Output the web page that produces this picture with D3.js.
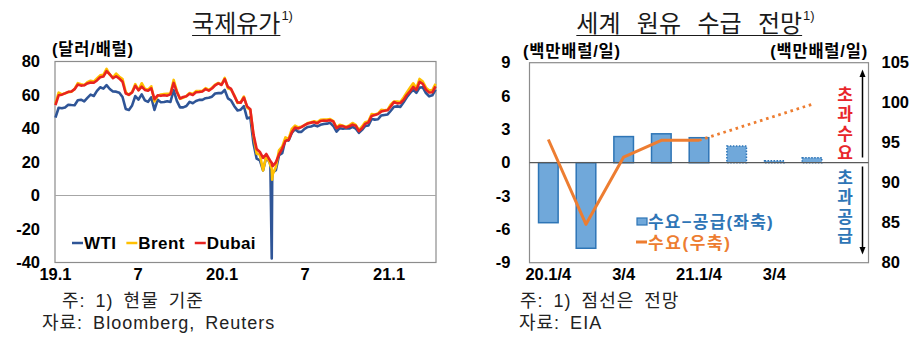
<!DOCTYPE html>
<html><head><meta charset="utf-8">
<script src="https://cdn.jsdelivr.net/npm/d3@7"></script>
<style>
html,body{margin:0;padding:0;background:#fff;}
svg{display:block;}
text{font-family:"Liberation Sans","Noto Sans CJK KR",sans-serif;}
.kr{font-family:"Noto Sans CJK KR","Liberation Sans",sans-serif;}
</style></head><body>
<svg id="c" width="919" height="351"></svg>
<script>
// ---------- Data: 국제유가 (weekly observations from 2019-01-02) ----------
const priceStart = "2019-01-02";
const wti = [
46.5,52.4,52.1,52.6,54.2,54.0,53.9,56.9,57.2,56.2,
58.3,60.2,59.4,62.5,64.6,63.8,65.9,63.6,62.1,62.0,
61.4,58.8,51.7,51.1,53.8,59.4,57.3,60.4,56.8,55.9,
58.6,51.1,57.1,55.7,55.8,56.3,55.8,62.9,56.5,52.6,
52.6,53.4,55.9,55.1,56.4,57.1,57.1,58.1,58.4,59.0,
60.9,61.1,61.1,63.0,58.0,56.7,53.3,50.8,51.2,53.3,
46.0,46.8,31.0,22.0,21.0,15.0,23.0,19.9,13.8,15.1,
24.0,25.3,33.5,32.8,37.3,39.6,38.0,38.0,39.8,40.9,
41.2,41.9,41.3,42.2,42.7,42.9,43.4,41.5,38.1,40.2,
39.9,40.2,40.0,41.0,40.0,37.4,39.2,41.5,41.8,45.7,
45.3,45.5,47.8,48.1,48.4,50.6,53.0,53.2,52.9,55.7,
58.7,61.1,63.2,61.3,64.4,64.6,61.2,59.2,59.8,63.2];
const brent = [
54.9,61.4,60.3,61.1,61.7,62.0,63.6,67.1,66.4,65.9,
67.6,68.5,68.0,69.9,71.7,72.0,75.6,72.2,70.4,72.8,
70.9,69.5,61.7,60.0,61.8,66.5,62.9,67.0,63.7,63.2,
65.2,56.2,59.5,60.3,60.5,60.7,60.8,69.0,62.4,57.7,
58.3,59.4,61.2,60.6,62.3,62.4,62.4,64.1,63.0,64.3,
66.2,67.2,66.3,70.2,64.0,63.2,59.8,55.3,55.8,59.1,
52.5,51.1,35.8,25.0,24.5,15.0,23.5,20.0,12.5,17.0,
27.0,29.2,34.7,33.8,39.8,41.7,40.7,41.0,42.0,43.3,
43.8,44.3,43.7,45.2,45.4,45.4,45.6,44.4,40.5,42.2,
41.7,40.9,41.9,43.3,42.2,39.1,41.2,43.8,44.3,48.6,
48.3,48.9,51.1,50.9,51.2,54.3,56.1,56.1,55.8,58.5,
61.5,64.3,67.0,64.1,69.6,68.0,64.4,62.7,62.9,66.6];
const dubai = [
54.0,59.8,60.2,61.0,61.9,62.1,63.5,66.2,65.6,65.8,
66.9,67.5,67.3,68.7,70.6,71.0,74.2,72.4,70.0,71.2,
69.8,67.9,60.9,60.2,61.5,65.5,62.8,65.0,63.0,62.5,
64.0,57.5,59.8,59.5,59.9,59.6,60.4,67.2,61.8,57.9,
58.8,59.2,60.7,60.0,61.6,61.8,62.1,63.5,62.6,63.9,
65.8,66.9,66.0,69.5,64.8,63.6,59.5,55.6,55.4,58.5,
53.2,51.5,36.5,27.8,26.0,22.5,24.8,21.5,17.5,19.8,
24.5,28.0,32.5,33.2,37.8,40.6,40.0,40.8,42.0,43.0,
43.5,43.8,43.2,44.5,44.8,44.6,45.0,44.2,40.2,41.5,
41.4,40.6,41.3,42.3,41.7,38.5,40.1,42.8,43.7,47.5,
48.1,48.7,50.1,50.6,50.9,53.2,55.8,55.0,55.2,57.1,
60.0,62.1,64.8,63.0,67.8,66.7,63.2,61.5,61.6,65.2];
// daily points around the April 2020 WTI collapse
const spikeDates = ["2020-04-17","2020-04-20","2020-04-21"];
const wtiSpike   = [18.3,-37.6,10.0];
const brentSpike = [18.0,16.0,9.5];
const dubaiSpike = [20.5,19.5,18.0];
const priceDomain = ["2019-01-01","2021-04-15"];
const priceTicks = [80,60,40,20,0,-20,-40];
const priceXTicks = ["2019-01-01","2019-07-01","2020-01-01","2020-07-01","2021-01-01"];
const priceXLabels = ["19.1","7","20.1","7","21.1"];
const priceSeriesNames = ["WTI","Brent","Dubai"];

// ---------- Data: 세계 원유 수급 전망 ----------
const quarters = ["20.1/4","20.2/4","20.3/4","20.4/4","21.1/4","21.2/4","21.3/4","21.4/4","22.1/4"];
const quarterLabels = ["20.1/4","","3/4","","21.1/4","","3/4","",""];
const balance = [-5.4,-7.7,2.35,2.6,2.25,1.5,0.17,0.45];   // 수요-공급 (좌축)
const demand  = [95.4,84.8,93.2,95.3,95.3,96.8,98.3,99.8]; // 수요 (우축)
const firstForecast = 5;
const balTicks = [9,6,3,0,-3,-6,-9];
const demTicks = [105,100,95,90,85,80];

// ---------- Drawing ----------
const svg = d3.select("#c");
const parse = d3.timeParse("%Y-%m-%d");
const C = {wti:"#2F5597", brent:"#FFC000", dubai:"#E8231F", frame:"#8c8c8c",
           barFill:"#70A8DA", barStroke:"#2E75B6", orange:"#ED7D31", blueTxt:"#2E75B6", red:"#E8262B"};
const TICK = 16.5;

function title(cx, str, wordSpacing){
  const g = svg.append("g");
  const t = g.append("text").attr("class","kr").attr("x",0).attr("y",32)
    .attr("font-size",24).attr("fill","#1a1a1a").style("word-spacing",wordSpacing+"px").text(str);
  const w = t.node().getComputedTextLength();
  const sup = g.append("text").attr("x",w+1).attr("y",20).attr("font-size",13).attr("fill","#1a1a1a").text("1)");
  const sw = sup.node().getComputedTextLength();
  g.append("line").attr("x1",0).attr("x2",w).attr("y1",35.5).attr("y2",35.5).attr("stroke","#1a1a1a").attr("stroke-width",1.2);
  g.attr("transform",`translate(${cx-(w+sw)/2},0)`);
}
function note(x, y, str){
  svg.append("text").attr("x",x).attr("y",y).attr("font-size",18).attr("fill","#222")
    .style("letter-spacing","1px").style("word-spacing","4px").text(str);
}

// ---- Left chart ----
const L = {x0:55, x1:436, y0:61.5, y1:262.5};
const xT = d3.scaleTime().domain(priceDomain.map(parse)).range([L.x0,L.x1]);
const yP = d3.scaleLinear().domain([-40,80]).range([L.y1,L.y0]);
const weeks = d3.range(wti.length).map(i=>d3.timeDay.offset(parse(priceStart),7*i));
function build(vals, extra){
  const pts = vals.map((v,i)=>({d:weeks[i],v}));
  spikeDates.forEach((s,i)=>pts.push({d:parse(s),v:extra[i]}));
  return pts.sort((a,b)=>a.d-b.d);
}
const seriesL = [
  {name:"WTI", pts:build(wti,wtiSpike), color:C.wti},
  {name:"Brent", pts:build(brent,brentSpike), color:C.brent},
  {name:"Dubai", pts:build(dubai,dubaiSpike), color:C.dubai}];

title(242, "국제유가", 0);
svg.append("text").attr("x",52).attr("y",55).attr("font-size",16.5).attr("font-weight","bold")
  .style("letter-spacing","0.8px").text("(달러/배럴)");
svg.append("rect").attr("x",L.x0).attr("y",L.y0).attr("width",L.x1-L.x0).attr("height",L.y1-L.y0)
  .attr("fill","none").attr("stroke",C.frame).attr("stroke-width",1.2);
svg.append("line").attr("x1",L.x0).attr("x2",L.x1).attr("y1",yP(0)).attr("y2",yP(0)).attr("stroke","#a6a6a6").attr("stroke-width",1);
const axL = svg.append("g").attr("transform",`translate(${L.x0},0)`)
  .call(d3.axisLeft(yP).tickValues(priceTicks).tickSize(0).tickPadding(15).tickFormat(d=>String(d)));
axL.select(".domain").remove();
const axB = svg.append("g").attr("transform",`translate(0,${L.y1})`)
  .call(d3.axisBottom(xT).tickValues(priceXTicks.map(parse)).tickSize(0).tickPadding(6).tickFormat((d,i)=>priceXLabels[i]));
axB.select(".domain").remove();
[axL,axB].forEach(a=>a.selectAll("text").attr("font-size",TICK).attr("font-weight","bold").attr("fill","#000").attr("font-family","Liberation Sans"));
const lineL = d3.line().x(p=>xT(p.d)).y(p=>yP(p.v));
seriesL.forEach(s=>{
  svg.append("path").attr("d",lineL(s.pts)).attr("fill","none").attr("stroke",s.color)
    .attr("stroke-width",2.6).attr("stroke-linejoin","round");
});
// legend left
let lx = 72;
seriesL.forEach(s=>{
  svg.append("line").attr("x1",lx).attr("x2",lx+11).attr("y1",243).attr("y2",243).attr("stroke",s.color).attr("stroke-width",2.5);
  const t = svg.append("text").attr("x",lx+12).attr("y",249).attr("font-size",17).attr("font-weight","bold")
    .style("letter-spacing","0.4px").text(s.name);
  lx += 12 + t.node().getComputedTextLength() + 10;
});
note(62, 307, "주: 1) 현물 기준");
note(42, 329, "자료: Bloomberg, Reuters");

// ---- Right chart ----
const R = {x0:529.5, x1:868.5, y0:62.7, y1:262.7};
const xB = d3.scaleBand().domain(quarters).range([R.x0,R.x1]).paddingInner(0.48).paddingOuter(0.24);
const yB = d3.scaleLinear().domain([-9,9]).range([R.y1,R.y0]);
const yD = d3.scaleLinear().domain([80,105]).range([R.y1,R.y0]);

title(695, "세계 원유 수급 전망", 11);
svg.append("text").attr("x",523).attr("y",57).attr("font-size",16.5).attr("font-weight","bold")
  .style("letter-spacing","0.8px").text("(백만배럴/일)");
svg.append("text").attr("x",868).attr("y",57).attr("text-anchor","end").attr("font-size",16.5).attr("font-weight","bold")
  .style("letter-spacing","0.8px").text("(백만배럴/일)");
svg.append("rect").attr("x",R.x0).attr("y",R.y0).attr("width",R.x1-R.x0).attr("height",R.y1-R.y0)
  .attr("fill","none").attr("stroke",C.frame).attr("stroke-width",1.2);
const axRL = svg.append("g").attr("transform",`translate(${R.x0},0)`)
  .call(d3.axisLeft(yB).tickValues(balTicks).tickSize(0).tickPadding(19).tickFormat(d=>String(d)));
const axRR = svg.append("g").attr("transform",`translate(${R.x1},0)`)
  .call(d3.axisRight(yD).tickValues(demTicks).tickSize(0).tickPadding(13).tickFormat(d=>String(d)));
const axRB = svg.append("g").attr("transform",`translate(0,${R.y1})`)
  .call(d3.axisBottom(xB).tickSize(0).tickPadding(6).tickFormat((d,i)=>quarterLabels[i]));
[axRL,axRR,axRB].forEach(a=>{a.select(".domain").remove();
  a.selectAll("text").attr("font-size",TICK).attr("font-weight","bold").attr("fill","#000").attr("font-family","Liberation Sans");});

svg.append("g").selectAll("rect").data(balance).join("rect")
  .attr("x",(d,i)=>xB(quarters[i])).attr("width",xB.bandwidth())
  .attr("y",d=>yB(Math.max(0,d))).attr("height",d=>Math.abs(yB(d)-yB(0)))
  .attr("fill",C.barFill).attr("stroke",C.barStroke).attr("stroke-width",1.5)
  .attr("stroke-dasharray",(d,i)=>i>=firstForecast?"1.5,1.5":null);
svg.append("line").attr("x1",R.x0).attr("x2",R.x1).attr("y1",yB(0)).attr("y2",yB(0)).attr("stroke","#595959").attr("stroke-width",1.2);

const dpts = demand.map((v,i)=>({x:xB(quarters[i])+xB.bandwidth()/2, v, i}));
const lineR = d3.line().x(p=>p.x).y(p=>yD(p.v));
svg.append("path").attr("d",lineR(dpts.filter(p=>p.i<firstForecast))).attr("fill","none")
  .attr("stroke",C.orange).attr("stroke-width",3).attr("stroke-linejoin","round");
svg.append("path").attr("d",lineR(dpts.filter(p=>p.i>=firstForecast-1))).attr("fill","none")
  .attr("stroke",C.orange).attr("stroke-width",2.8).attr("stroke-dasharray","2.6,3.8");

// legend right
svg.append("rect").attr("x",637).attr("y",218).attr("width",10).attr("height",7)
  .attr("fill",C.barFill).attr("stroke",C.barStroke).attr("stroke-width",1.2);
svg.append("text").attr("x",648).attr("y",228).attr("font-size",17).attr("font-weight","bold").attr("fill",C.blueTxt)
  .style("letter-spacing","1.2px").text("수요−공급(좌축)");
svg.append("line").attr("x1",636).attr("x2",647).attr("y1",242).attr("y2",242).attr("stroke",C.orange).attr("stroke-width",3);
svg.append("text").attr("x",648).attr("y",249).attr("font-size",17).attr("font-weight","bold").attr("fill",C.orange)
  .style("letter-spacing","1.6px").text("수요(우축)");

// annotation arrows + vertical labels
const ax = R.x1 - 6;
const arrowG = svg.append("g");
arrowG.append("line").attr("x1",ax).attr("x2",ax).attr("y1",75).attr("y2",157.5).attr("stroke","#000").attr("stroke-width",1.5);
arrowG.append("path").attr("d",`M${ax-3},77 L${ax},69.5 L${ax+3},77 Z`).attr("fill","#000");
arrowG.append("line").attr("x1",ax).attr("x2",ax).attr("y1",166.5).attr("y2",249).attr("stroke","#000").attr("stroke-width",1.5);
arrowG.append("path").attr("d",`M${ax-3},247 L${ax},254.5 L${ax+3},247 Z`).attr("fill","#000");
const vtxt = (chars, y0, color)=>{
  chars.split("").forEach((ch,i)=>svg.append("text").attr("x",845).attr("y",y0+i*19.3)
    .attr("text-anchor","middle").attr("font-size",17).attr("font-weight","bold").attr("fill",color).text(ch));
};
vtxt("초과수요", 101, C.red);
vtxt("초과공급", 184, C.blueTxt);

note(520, 307, "주: 1) 점선은 전망");
note(519, 329, "자료: EIA");
</script>
</body></html>
